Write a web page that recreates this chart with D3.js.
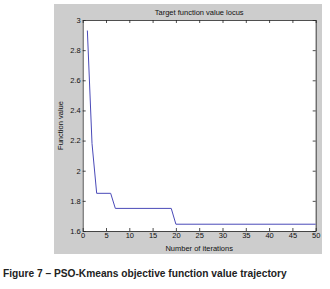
<!DOCTYPE html>
<html>
<head>
<meta charset="utf-8">
<script src="https://cdn.jsdelivr.net/npm/d3@7"></script>
<style>
  body { margin: 0; background: #fff; }
  svg { display: block; }
</style>
</head>
<body>
<script>
    // Iteration values
    const iterations = [1, 2, 3, 6, 7, 19, 20, 50]
    const fitness = [2.93, 2.18, 1.85, 1.85, 1.75, 1.75, 1.645, 1.645]

    const xTicks = [0, 5, 10, 15, 20, 25, 30, 35, 40, 45, 50]
    const yTicks = [1.6, 1.8, 2, 2.2, 2.4, 2.6, 2.8, 3]

    const width = 330
    const height = 289
    const plot = {"left": 82.7, "right": 315.7, "top": 20, "bottom": 231}

    const svg = d3.select("body")
        .append("svg")
        .attr("width", width)
        .attr("height", height)

    // Figure background (MATLAB grey)
    svg.append("rect")
        .attr("x", 54).attr("y", 4)
        .attr("width", 268).attr("height", 250)
        .attr("fill", "#cdcdcd")

    svg.append("rect")
        .attr("x", plot.left).attr("y", plot.top)
        .attr("width", plot.right - plot.left)
        .attr("height", plot.bottom - plot.top)
        .attr("fill", "#fff")

    const xScale = d3.scaleLinear().domain([0, 50]).range([plot.left, plot.right])
    const yScale = d3.scaleLinear().domain([1.6, 3]).range([plot.bottom, plot.top])

    const font = "Liberation Sans, Arial, sans-serif"

    const styleAxis = (g) => {
        g.select(".domain").attr("stroke", "#222").attr("stroke-width", 0.8)
        g.selectAll(".tick line").attr("stroke", "#222").attr("stroke-width", 0.8)
        g.selectAll("text").attr("font-family", font).attr("font-size", 7.5).attr("fill", "#111")
    }

    svg.append("g")
        .attr("transform", `translate(0, ${plot.bottom})`)
        .call(d3.axisBottom(xScale).tickValues(xTicks).tickSize(-3).tickSizeOuter(0).tickPadding(2).tickFormat(d3.format("d")))
        .call(styleAxis)

    svg.append("g")
        .attr("transform", `translate(0, ${plot.top})`)
        .call(d3.axisTop(xScale).tickValues(xTicks).tickSize(-3).tickSizeOuter(0).tickFormat(""))
        .call(styleAxis)

    svg.append("g")
        .attr("transform", `translate(${plot.left}, 0)`)
        .call(d3.axisLeft(yScale).tickValues(yTicks).tickSize(-3).tickSizeOuter(0).tickPadding(2).tickFormat(d3.format("~g")))
        .call(styleAxis)

    svg.append("g")
        .attr("transform", `translate(${plot.right}, 0)`)
        .call(d3.axisRight(yScale).tickValues(yTicks).tickSize(-3).tickSizeOuter(0).tickFormat(""))
        .call(styleAxis)

    // Trajectory line
    const line = d3.line()
        .x((d, i) => xScale(iterations[i]))
        .y(d => yScale(d))

    svg.append("path")
        .datum(fitness)
        .attr("d", line)
        .attr("fill", "none")
        .attr("stroke", "#4a4ab8")
        .attr("stroke-width", 1)

    // Titles
    svg.append("text")
        .attr("x", (plot.left + plot.right) / 2)
        .attr("y", 15)
        .attr("text-anchor", "middle")
        .attr("font-family", font)
        .attr("font-size", 7.5)
        .attr("fill", "#111")
        .text("Target function value locus")

    svg.append("text")
        .attr("x", (plot.left + plot.right) / 2)
        .attr("y", 251)
        .attr("text-anchor", "middle")
        .attr("font-family", font)
        .attr("font-size", 7.5)
        .attr("fill", "#111")
        .text("Number of iterations")

    svg.append("text")
        .attr("transform", `translate(63, ${(plot.top + plot.bottom) / 2}) rotate(-90)`)
        .attr("text-anchor", "middle")
        .attr("font-family", font)
        .attr("font-size", 7.5)
        .attr("fill", "#111")
        .text("Function value")

    // Caption
    svg.append("text")
        .attr("x", 3)
        .attr("y", 277)
        .attr("font-family", "Liberation Sans, Arial, sans-serif")
        .attr("font-weight", "bold")
        .attr("font-size", 10.2)
        .attr("fill", "#222")
        .text("Figure 7 – PSO-Kmeans objective function value trajectory")
</script>
</body>
</html>
